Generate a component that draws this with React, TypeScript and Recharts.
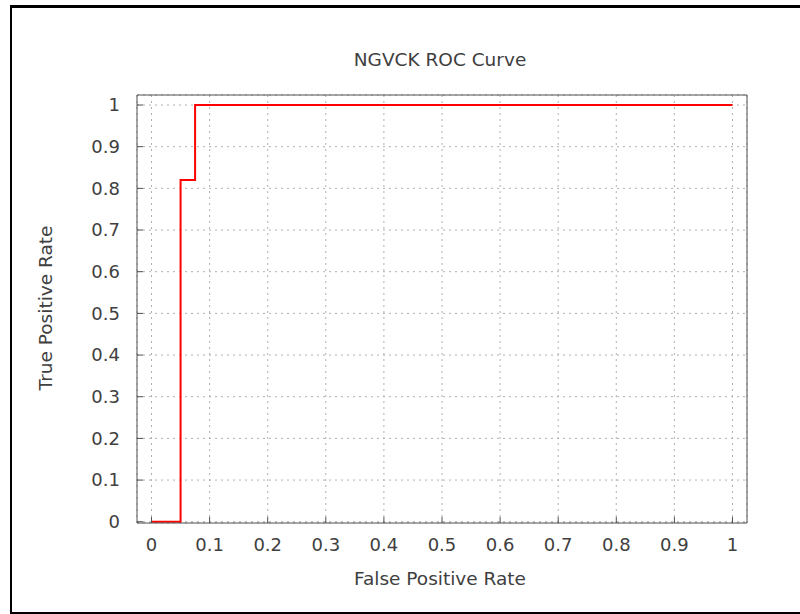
import React from "react";
import { LineChart, Line, XAxis, YAxis, CartesianGrid } from "recharts";

const fpr = [0, 0.05, 0.075, 1];
const tpr = [0, 0.82, 1, 1];
const xTicks = [0, 0.1, 0.2, 0.3, 0.4, 0.5, 0.6, 0.7, 0.8, 0.9, 1];
const yTicks = [0, 0.1, 0.2, 0.3, 0.4, 0.5, 0.6, 0.7, 0.8, 0.9, 1];
const title = "NGVCK ROC Curve";
const xLabel = "False Positive Rate";
const yLabel = "True Positive Rate";

const data = fpr.map((f, i) => ({ fpr: f, tpr: tpr[i] }));

const FONT = "'DejaVu Sans', sans-serif";
const AXIS = "#505050";
const TEXT = "#404040";
const fmt = (v: number) => String(Math.round(v * 10) / 10);

export default function App() {
  const tickStyle = { fontFamily: FONT, fontSize: 18, fill: TEXT };
  return (
    <div style={{ position: "absolute", left: 0, top: 0, width: 800, height: 614, background: "#fff", overflow: "hidden" }}>
      <div
        style={{
          position: "absolute",
          left: 10,
          top: 5,
          width: 800,
          height: 609,
          boxSizing: "border-box",
          borderTop: "3px solid #000",
          borderLeft: "2px solid #000",
          borderBottom: "2px solid #000",
        }}
      />
      <div style={{ position: "absolute", left: 0, top: 0 }}>
        <LineChart width={800} height={614} data={data} margin={{ top: 94, right: 52, bottom: 90, left: 0 }}>
          <CartesianGrid stroke="#b0b0b0" strokeDasharray="2 4" horizontal vertical />
          <XAxis
            xAxisId={0}
            dataKey="fpr"
            type="number"
            domain={[-0.025, 1.025]}
            ticks={xTicks}
            tickFormatter={fmt}
            allowDataOverflow
            height={1}
            orientation="bottom"
            tickSize={-6}
            tickMargin={21}
            stroke={AXIS}
            tick={tickStyle}
            interval={0}
          />
          <XAxis
            xAxisId="top"
            dataKey="fpr"
            type="number"
            domain={[-0.025, 1.025]}
            ticks={xTicks}
            allowDataOverflow
            height={1}
            orientation="top"
            tickSize={-6}
            stroke={AXIS}
            tick={false}
            interval={0}
          />
          <YAxis
            yAxisId={0}
            type="number"
            domain={[-0.003, 1.024]}
            ticks={yTicks}
            tickFormatter={fmt}
            allowDataOverflow
            width={137}
            orientation="left"
            tickSize={-6}
            tickMargin={23}
            stroke={AXIS}
            tick={tickStyle}
            interval={0}
          />
          <YAxis
            yAxisId="right"
            type="number"
            domain={[-0.003, 1.024]}
            ticks={yTicks}
            allowDataOverflow
            width={1}
            orientation="right"
            tickSize={-6}
            stroke={AXIS}
            tick={false}
            interval={0}
          />
          <Line
            xAxisId={0}
            yAxisId={0}
            type="stepAfter"
            dataKey="tpr"
            stroke="#ff0000"
            strokeWidth={2}
            dot={false}
            isAnimationActive={false}
          />
        </LineChart>
      </div>
      <svg width={800} height={614} style={{ position: "absolute", left: 0, top: 0, pointerEvents: "none" }}>
        <text x={440} y={66} textAnchor="middle" fontFamily={FONT} fontSize={18.5} fill={TEXT}>
          {title}
        </text>
        <text x={440} y={585} textAnchor="middle" fontFamily={FONT} fontSize={18.5} fill={TEXT}>
          {xLabel}
        </text>
        <text
          x={0}
          y={0}
          transform="translate(52,308) rotate(-90)"
          textAnchor="middle"
          fontFamily={FONT}
          fontSize={18.5}
          fill={TEXT}
        >
          {yLabel}
        </text>
      </svg>
    </div>
  );
}
